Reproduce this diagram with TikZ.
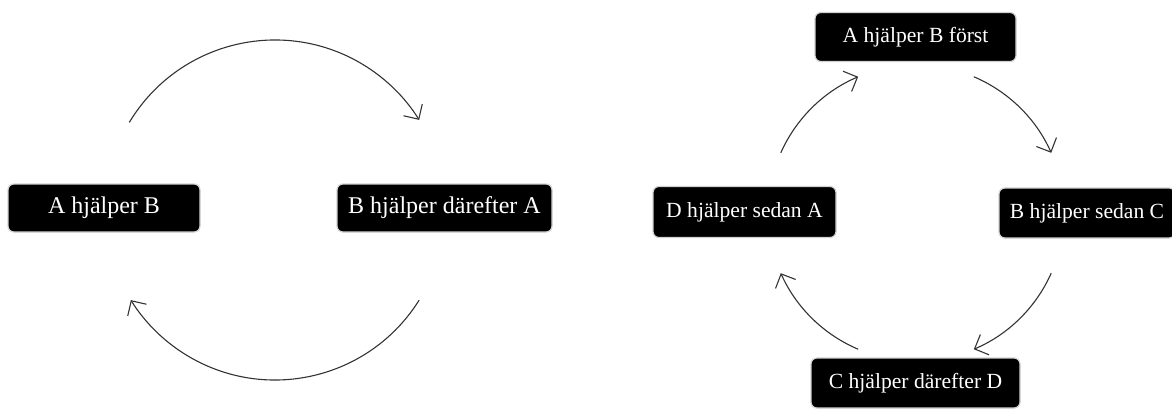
\documentclass[tikz,border=0pt]{standalone}
\usepackage{fontspec}
\setmainfont{Liberation Serif}
\usetikzlibrary{arrows.meta,calc}
\tikzset{
  boxbase/.style={rectangle, rounded corners=6pt, fill=black, draw=black!18, line width=1.2pt, text=white, inner sep=0pt, align=center},
  bigbox/.style={boxbase, font=\fontsize{24}{28}\selectfont},
  smallbox/.style={boxbase, font=\fontsize{21.6}{26}\selectfont},
  arr/.style={draw=black!80, line width=1.1pt, -{Straight Barb[length=11pt,width=22pt,line width=1.1pt]}}
}
\begin{document}
\begin{tikzpicture}[x=1pt,y=1pt]
\useasboundingbox (0,0) rectangle (1172,408);
% left cycle
\node[bigbox, minimum width=192pt, minimum height=48pt] (la) at (104,200) {A hjälper B};
\node[bigbox, minimum width=215pt, minimum height=48pt] (lb) at (444.5,200) {B hjälper därefter A};
\coordinate (lc) at (275,198);
\coordinate (l1) at ($(lc)+(149:170)$);
\coordinate (l2) at ($(lc)+(-32:170)$);
\draw[arr] (l1) arc[start angle=149, end angle=32, radius=170];
\draw[arr] (l2) arc[start angle=-32, end angle=-148, radius=170];
% right cycle
\node[smallbox, minimum width=201pt, minimum height=49pt] (ra) at (915.5,371) {A hjälper B först};
\node[smallbox, minimum width=183pt, minimum height=51pt] (rd) at (744.5,196) {D hjälper sedan A};
\node[smallbox, minimum width=176pt, minimum height=50pt] (rb) at (1087,195) {B hjälper sedan C};
\node[smallbox, minimum width=209pt, minimum height=50pt] (rc) at (915.5,25) {C hjälper därefter D};
\coordinate (rctr) at (916,195);
\coordinate (r1) at ($(rctr)+(156:148)$);
\coordinate (r2) at ($(rctr)+(67:148)$);
\coordinate (r3) at ($(rctr)+(-24:148)$);
\coordinate (r4) at ($(rctr)+(-113:148)$);
\draw[arr] (r1) arc[start angle=156, end angle=113, radius=148];
\draw[arr] (r2) arc[start angle=67, end angle=24, radius=148];
\draw[arr] (r3) arc[start angle=-24, end angle=-67, radius=148];
\draw[arr] (r4) arc[start angle=-113, end angle=-156, radius=148];
\end{tikzpicture}
\end{document}
